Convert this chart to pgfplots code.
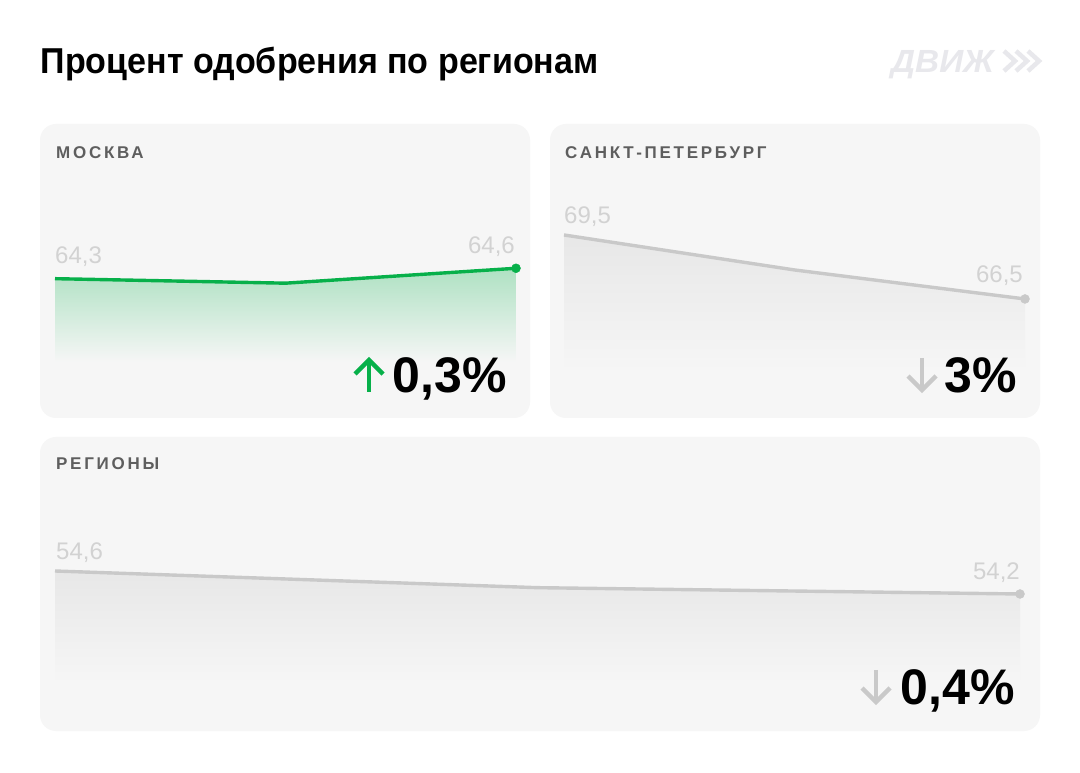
\documentclass[border=0pt]{standalone}
\usepackage{graphicx}
\usepackage{pgfplots}
\pgfplotsset{compat=1.18}
\usepackage{fontspec}
\setmainfont{Liberation Sans}
\newfontfamily\lblfont[LetterSpace=16]{Liberation Sans Bold}
\definecolor{panel}{HTML}{F6F6F6}
\definecolor{mgreen}{HTML}{07B04A}
\definecolor{lgrey}{HTML}{C9C9C9}
\definecolor{vgrey}{HTML}{D2D2D2}
\definecolor{tgrey}{HTML}{5E5E5E}
\definecolor{logo}{HTML}{E8E8EC}
\begin{document}
\begin{tikzpicture}
\begin{scope}[x=1pt,y=1pt]
\fill[white] (0,0) rectangle (1080,772);
\fill[panel, rounded corners=16pt] (40,354) rectangle (530,648);
\fill[panel, rounded corners=16pt] (550,354) rectangle (1040,648);
\fill[panel, rounded corners=16pt] (40,41) rectangle (1040,335);
\end{scope}

% Moscow
\begin{axis}[at={(55pt,410.1pt)}, anchor=south west, scale only axis,
  width=461pt, height=107.5pt, hide axis, clip=false,
  xmin=0, xmax=2, ymin=61.9, ymax=65.0]
\addplot[draw=none, top color=mgreen!30!panel, middle color=mgreen!10!panel, bottom color=panel]
  coordinates {(0,64.3) (1,64.17) (2,64.6)} |- (axis cs:0,61.9) -- cycle;
\addplot[mgreen, line width=3.4pt, mark=none] coordinates {(0,64.3) (1,64.17) (2,64.6)};
\addplot[only marks, mark=*, mark size=4.5pt, mgreen] coordinates {(2,64.6)};
\end{axis}

% Saint Petersburg
\begin{axis}[at={(564pt,400.5pt)}, anchor=south west, scale only axis,
  width=461pt, height=147.2pt, hide axis, clip=false,
  xmin=0, xmax=2, ymin=63.1, ymax=70.0]
\addplot[draw=none, top color=black!6!panel, bottom color=panel]
  coordinates {(0,69.5) (1,67.86) (2,66.5)} |- (axis cs:0,63.1) -- cycle;
\addplot[lgrey, line width=3.4pt, mark=none] coordinates {(0,69.5) (1,67.86) (2,66.5)};
\addplot[only marks, mark=*, mark size=4.5pt, lgrey] coordinates {(2,66.5)};
\end{axis}

% Regions
\begin{axis}[at={(55pt,88.9pt)}, anchor=south west, scale only axis,
  width=965pt, height=135.1pt, hide axis, clip=false,
  xmin=0, xmax=2, ymin=52.65, ymax=55.0]
\addplot[draw=none, top color=black!6!panel, bottom color=panel]
  coordinates {(0,54.6) (1,54.31) (2,54.2)} |- (axis cs:0,52.65) -- cycle;
\addplot[lgrey, line width=3.4pt, mark=none] coordinates {(0,54.6) (1,54.31) (2,54.2)};
\addplot[only marks, mark=*, mark size=4.5pt, lgrey] coordinates {(2,54.2)};
\end{axis}

\begin{scope}[x=1pt,y=1pt]
% title
\node[anchor=base west, inner sep=0] at (40.5,698) {\scalebox{0.945}[1]{\bfseries\fontsize{36}{40}\selectfont Процент одобрения по регионам}};
% logo
\node[anchor=base west, inner sep=0, text=logo] at (891,699) {\scalebox{1.04}[1]{\bfseries\itshape\fontsize{32}{34}\selectfont ДВИЖ}};
\foreach \i in {0,1,2} {
  \draw[logo, line width=4.5pt, line join=miter] (1004+12*\i,721) -- (1015+12*\i,711) -- (1004+12*\i,701);
}
% panel labels
\node[anchor=base west, inner sep=0, text=tgrey] at (56,613) {\lblfont\fontsize{17}{20}\selectfont МОСКВА};
\node[anchor=base west, inner sep=0, text=tgrey] at (565,613) {\lblfont\fontsize{17}{20}\selectfont САНКТ-ПЕТЕРБУРГ};
\node[anchor=base west, inner sep=0, text=tgrey] at (56,302) {\lblfont\fontsize{17}{20}\selectfont РЕГИОНЫ};
% value labels
\node[anchor=base west, inner sep=0, text=vgrey] at (55,508) {\fontsize{24}{26}\selectfont 64,3};
\node[anchor=base east, inner sep=0, text=vgrey] at (515,518) {\fontsize{24}{26}\selectfont 64,6};
\node[anchor=base west, inner sep=0, text=vgrey] at (564,548) {\fontsize{24}{26}\selectfont 69,5};
\node[anchor=base east, inner sep=0, text=vgrey] at (1023,489) {\fontsize{24}{26}\selectfont 66,5};
\node[anchor=base west, inner sep=0, text=vgrey] at (56,212) {\fontsize{24}{26}\selectfont 54,6};
\node[anchor=base east, inner sep=0, text=vgrey] at (1020,192) {\fontsize{24}{26}\selectfont 54,2};
% big numbers
\node[anchor=base east, inner sep=0] at (507,379) {\bfseries\fontsize{50}{52}\selectfont 0,3\%};
\node[anchor=base east, inner sep=0] at (1017,379) {\bfseries\fontsize{50}{52}\selectfont 3\%};
\node[anchor=base east, inner sep=0] at (1015,67) {\bfseries\fontsize{50}{52}\selectfont 0,4\%};
% arrows
\draw[mgreen, line width=4.5pt] (369,380) -- (369,411);
\draw[mgreen, line width=4.5pt, line join=miter] (355,398) -- (369,412) -- (383,398);
\draw[lgrey, line width=4.5pt] (922,414) -- (922,383);
\draw[lgrey, line width=4.5pt, line join=miter] (908,396) -- (922,382) -- (936,396);
\draw[lgrey, line width=4.5pt] (876,102) -- (876,71);
\draw[lgrey, line width=4.5pt, line join=miter] (862,84) -- (876,70) -- (890,84);
\end{scope}
\end{tikzpicture}
\end{document}
